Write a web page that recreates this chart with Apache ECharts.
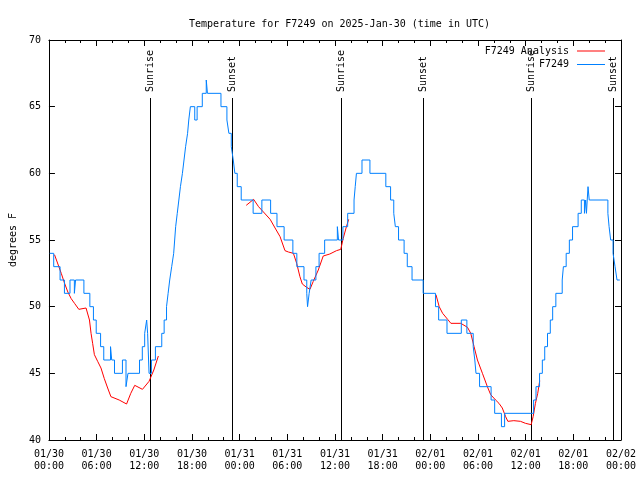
<!DOCTYPE html>
<html>
<head>
<meta charset="utf-8">
<script src="https://cdn.jsdelivr.net/npm/echarts@6/dist/echarts.min.js"></script>
<style>html,body{margin:0;padding:0;background:#fff;}#c{width:640px;height:480px;}</style>
</head>
<body>
<div id="c"></div>
<script>
// ---- DATA ----
const titleText = 'Temperature for F7249 on 2025-Jan-30 (time in UTC)';
const xTickLabels = ['01/30\n00:00','01/30\n06:00','01/30\n12:00','01/30\n18:00','01/31\n00:00','01/31\n06:00','01/31\n12:00','01/31\n18:00','02/01\n00:00','02/01\n06:00','02/01\n12:00','02/01\n18:00','02/02\n00:00'];
// hours since 01/30 00:00 UTC
const obsHours = [0.1,0.6,1.4,1.95,2.65,3.2,3.35,4.4,5.15,5.6,5.95,6.5,6.9,7.75,7.9,8.25,9.25,9.7,9.95,11.4,11.75,12.05,12.3,12.42,12.6,12.9,13.4,14.2,14.5,14.8,15.0,15.2,15.45,15.7,15.95,16.15,16.35,16.55,16.8,17.0,17.2,17.45,17.6,17.8,18.35,18.65,19.3,19.8,19.95,21.65,22.4,22.65,22.95,23.2,23.4,23.7,24.2,25.7,26.8,27.9,28.7,29.6,30.7,31.2,32.1,32.45,32.55,32.75,33.0,33.6,34.0,34.7,36.3,36.45,37.0,37.6,38.4,38.55,38.7,39.4,40.4,42.4,43.0,43.4,43.6,44.0,44.7,45.1,45.7,47.1,48.65,49.05,50.1,51.9,52.6,53.4,53.6,53.75,54.2,55.65,56.1,56.95,57.35,61.0,61.3,61.75,62.1,62.4,62.75,63.1,63.4,63.8,64.6,64.75,65.1,65.5,65.9,66.6,67.0,67.4,67.55,67.65,67.75,67.85,68.0,70.35,70.5,70.7,71.0,71.25,71.5,71.75,71.85];
const obsTemps = [54,53,52,51,52,51,52,51,50,49,48,47,46,47,46,45,46,44,45,46,47,48,49,48,45,46,47,48,49,50,51,52,53,54,56,57,58,59,60,61,62,63,64,65,64,65,66,67,66,65,64,63,62,61,60,59,58,57,58,57,56,55,54,53,52,51,50,51,52,53,54,55,56,55,56,57,58,59,60,61,60,59,58,57,56,55,54,53,52,51,50,49,48,49,48,47,46,45,44,43,42,41,42,43,44,45,46,47,48,49,50,51,52,53,54,55,56,57,58,57,58,57,58,59,58,57,56,55,54,53,52,52];
const anaHours = [0.7,1.55,1.97,2.38,2.8,3.22,3.76,4.67,4.88,5.1,5.3,5.5,5.72,6.13,6.55,6.97,7.39,7.8,8.84,9.77,10.3,10.8,11.77,12.6,13.2,13.77,
  null,
  24.83,25.76,26.38,27.0,27.84,28.46,29.09,29.71,30.14,30.77,31.18,31.59,31.89,32.43,32.85,33.27,33.9,34.52,35.35,36.19,36.73,37.03,37.44,37.73,
  null,
  48.71,49.12,49.55,50.18,50.59,51.84,52.68,53.09,53.51,53.93,54.56,55.18,55.6,56.22,56.64,57.06,57.48,57.76,58.51,59.35,59.98,60.69,60.94,61.23,61.52,61.77];
const anaTemps = [53.9,52.5,51.75,51.1,50.6,50.25,49.8,49.9,49.8,49.0,48.0,47.25,46.4,45.9,45.4,44.6,43.9,43.25,43.0,42.7,43.5,44.1,43.8,44.4,45.25,46.3,
  null,
  57.6,58.05,57.5,57.1,56.55,55.9,55.25,54.2,54.1,54.0,53.25,52.25,51.7,51.45,51.3,51.9,52.75,53.8,53.95,54.2,54.3,55.1,56.0,56.55,
  null,
  50.9,50.0,49.5,49.05,48.75,48.75,48.45,48.0,47.0,46.0,45.0,44.0,43.4,43.0,42.75,42.4,41.75,41.4,41.45,41.4,41.25,41.15,41.75,42.75,43.5,44.45];
const sunHours = [12.69, 23.1, 36.72, 47.1, 60.65, 71.05];
const sunNames = ['Sunrise','Sunset','Sunrise','Sunset','Sunrise','Sunset'];
// ---- CHART ----
const FONT = '"DejaVu Sans Mono", monospace';
const chart = echarts.init(document.getElementById('c'), null, {renderer:'canvas'});
const obsData = obsHours.map((h,i)=>[h, obsTemps[i]]);
const anaData = anaHours.map((h,i)=> h===null ? [null,null] : [h, anaTemps[i]]);
const baseX = {
  type:'value', min:0, max:72, interval:6,
  axisLine:{show:true,onZero:false,lineStyle:{color:'#000',width:1}},
  axisTick:{show:true,inside:true,length:6,lineStyle:{color:'#000'}},
  minorTick:{show:true,splitNumber:3,length:3,lineStyle:{color:'#000'}},
  splitLine:{show:false}, minorSplitLine:{show:false}
};
const baseY = {
  type:'value', min:40, max:70, interval:5,
  axisLine:{show:true,onZero:false,lineStyle:{color:'#000',width:1}},
  axisTick:{show:true,inside:true,length:6,lineStyle:{color:'#000'}},
  splitLine:{show:false}
};
chart.setOption({
  animation:false,
  backgroundColor:'#fff',
  title:{text:titleText,left:184,top:14,textStyle:{fontFamily:FONT,fontSize:10,fontWeight:'normal',color:'#000'}},
  grid:{left:46,right:19,top:40,bottom:40,containLabel:false},
  legend:{
    data:[{name:'F7249 Analysis',icon:'rect'},{name:'F7249',icon:'rect'}], orient:'vertical', align:'right', right:30, top:40,
    itemWidth:28, itemHeight:1, itemGap:1.5,
    textStyle:{fontFamily:FONT,fontSize:10,color:'#000',padding:[0,3,0,0],lineHeight:12}
  },
  xAxis:[
    Object.assign({}, baseX, {position:'bottom', axisLabel:{show:true,margin:8,fontFamily:FONT,fontSize:10,color:'#000',lineHeight:12,
      formatter:function(v){ const i=Math.round(v/6); return xTickLabels[i]; }}}),
    Object.assign({}, baseX, {position:'top', axisLabel:{show:false}})
  ],
  yAxis:[
    Object.assign({}, baseY, {position:'left', name:'degrees F', nameLocation:'middle', nameRotate:90, nameGap:30,
      nameTextStyle:{fontFamily:FONT,fontSize:10,color:'#000'},
      axisLabel:{show:true,margin:8,fontFamily:FONT,fontSize:10,color:'#000'}}),
    Object.assign({}, baseY, {position:'right', axisLabel:{show:false}})
  ],
  series:[
    {
      name:'sun', type:'custom', xAxisIndex:0, yAxisIndex:0, silent:true, z:1,
      data: sunHours.map(h=>[h,40]),
      renderItem:function(params, api){
        const h = api.value(0);
        const pb = api.coord([h,40]);
        const pt = api.coord([h,70]);
        const x = Math.round(pb[0])+0.5;
        return {type:'group', children:[
          {type:'line', shape:{x1:x,y1:pb[1],x2:x,y2:pt[1]+58}, style:{stroke:'#000',lineWidth:1}},
          {type:'text', x:x, y:pt[1]+52, rotation:Math.PI/2,
           style:{text:sunNames[params.dataIndex], font:'10px '+FONT, fill:'#000', textAlign:'left', textVerticalAlign:'middle'}}
        ]};
      }
    },
    {
      name:'F7249 Analysis', type:'line', data:anaData, symbol:'none', connectNulls:false, z:2,
      lineStyle:{color:'#ff0000',width:1}, itemStyle:{color:'#ff0000'}
    },
    {
      name:'F7249', type:'line', data:obsData, symbol:'none', step:'end', z:3,
      lineStyle:{color:'#0080ff',width:1}, itemStyle:{color:'#0080ff'}
    }
  ]
});
</script>
</body>
</html>
